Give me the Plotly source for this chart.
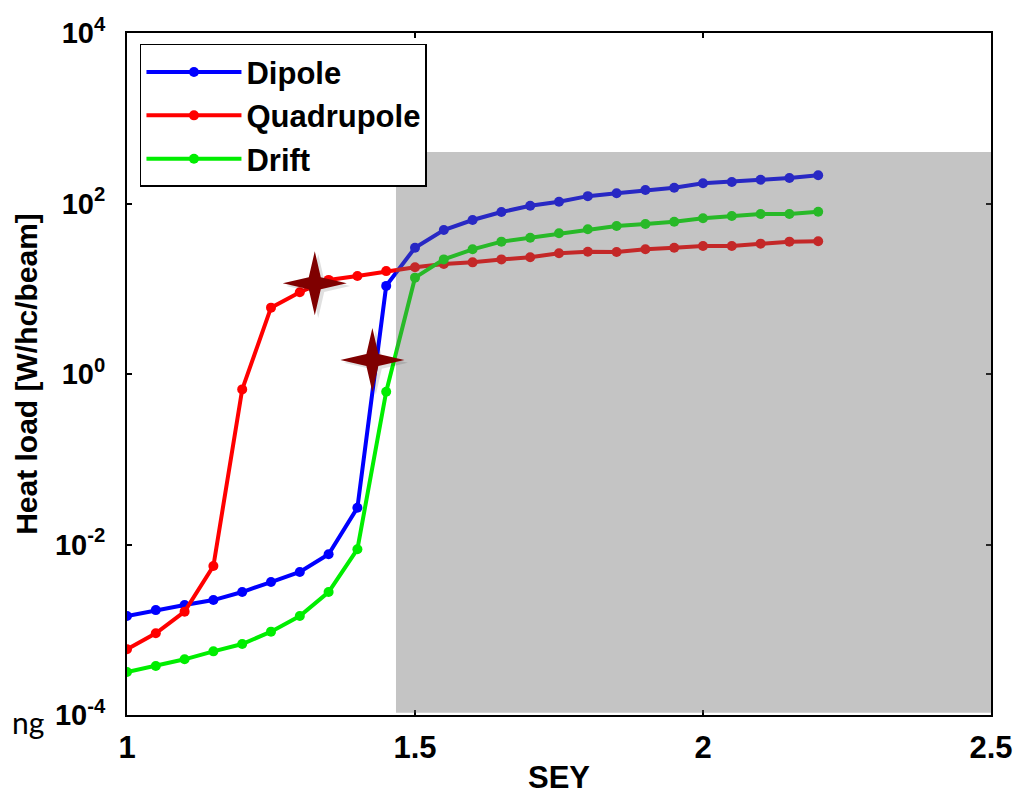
import plotly.graph_objects as go

# SEY scan, 1.00 .. 2.20 in steps of 0.05
sey = [1.00, 1.05, 1.10, 1.15, 1.20, 1.25, 1.30, 1.35, 1.40, 1.45, 1.50, 1.55, 1.60,
       1.65, 1.70, 1.75, 1.80, 1.85, 1.90, 1.95, 2.00, 2.05, 2.10, 2.15, 2.20]

dipole = [1.45e-3, 1.7e-3, 1.95e-3, 2.23e-3, 2.77e-3, 3.63e-3, 4.76e-3, 7.7e-3, 0.027,
          10.8, 30.3, 48.9, 64, 79.4, 94, 105, 122, 132, 144, 153, 173, 179, 190, 199, 214]

quadrupole = [5.9e-4, 9.1e-4, 1.63e-3, 5.6e-3, 0.66, 6.0, 9.1, 12.7, 14.1, 16.1, 17.9,
              19.5, 20.4, 22.1, 23.4, 26.1, 27.2, 27.0, 29.0, 30.3, 31.7, 31.7, 33.8, 35.7, 36.0]

drift = [3.19e-4, 3.76e-4, 4.5e-4, 5.58e-4, 6.8e-4, 9.5e-4, 1.45e-3, 2.77e-3, 8.8e-3,
         0.62, 13.5, 22.1, 29.0, 35.7, 39.7, 44.7, 49.8, 54.4, 57.5, 61.2, 67.0, 71.3,
         75.3, 75.3, 80.2]

series_names = ["Dipole", "Quadrupole", "Drift"]
series_colors = ["#0000ff", "#ff0000", "#00ee00"]

# operating points marked with stars
star_x = [1.326, 1.426]
star_y = [11.6, 1.46]

# shaded SEY band
band_x = [1.467, 2.505]
band_y = [1.06e-4, 402]

x_ticks = [1, 1.5, 2, 2.5]
x_ticktext = ["1", "1.5", "2", "2.5"]
y_ticks = [1e-4, 1e-2, 1, 1e2, 1e4]
y_ticktext = ["10<sup>-4</sup>", "10<sup>-2</sup>", "10<sup>0</sup>",
              "10<sup>2</sup>", "10<sup>4</sup>"]

FONT = "Liberation Sans, Arial, sans-serif"

fig = go.Figure()
for name, ys, col in zip(series_names, [dipole, quadrupole, drift], series_colors):
    fig.add_trace(go.Scatter(
        x=sey, y=ys, name=name, mode="lines+markers",
        line=dict(color=col, width=4),
        marker=dict(color=col, size=10),
    ))

# four-pointed star outline in pixels around its anchor
def star_path(r, w):
    return (f"M 0,{r} L {w},{w} L {r},0 L {w},{-w} L 0,{-r} "
            f"L {-w},{-w} L {-r},0 L {-w},{w} Z")

shapes = []
# translucent band drawn above the curves, which dims them inside it
shapes.append(dict(
    type="rect", xref="x", yref="y",
    x0=band_x[0], x1=band_x[1], y0=band_y[0], y1=band_y[1],
    fillcolor="rgba(103,103,103,0.39)", line=dict(width=0), layer="above",
))
for sx, sy in zip(star_x, star_y):
    shapes.append(dict(
        type="path", xref="x", yref="y", xsizemode="pixel", ysizemode="pixel",
        xanchor=sx + 0.006, yanchor=sy * 0.93, path=star_path(32, 6),
        fillcolor="rgba(0,0,0,0.12)", line=dict(width=0), layer="above",
    ))
    shapes.append(dict(
        type="path", xref="x", yref="y", xsizemode="pixel", ysizemode="pixel",
        xanchor=sx, yanchor=sy, path=star_path(32, 6),
        fillcolor="#7f0000", line=dict(width=0), layer="above",
    ))

fig.update_layout(
    width=1023, height=795,
    margin=dict(l=127, r=32, t=33, b=80),
    paper_bgcolor="white", plot_bgcolor="white",
    font=dict(family=FONT, color="black", size=30, weight="bold"),
    shapes=shapes,
    showlegend=True,
    legend=dict(
        x=0.015, y=0.984, xanchor="left", yanchor="top",
        bgcolor="white", bordercolor="black", borderwidth=1.5,
        font=dict(family=FONT, size=31, color="black", weight="bold"),
        itemwidth=95, tracegroupgap=0,
    ),
    xaxis=dict(
        range=[1, 2.5], tickvals=x_ticks, ticktext=x_ticktext,
        showline=True, mirror="ticks", linecolor="black", linewidth=2,
        ticks="inside", ticklen=5, tickcolor="black", tickwidth=1.5,
        showgrid=False, zeroline=False, ticklabelstandoff=4, automargin=False,
        tickfont=dict(family=FONT, size=31, weight="bold"),
        title=dict(text="SEY", font=dict(family=FONT, size=31, weight="bold"), standoff=6),
    ),
    yaxis=dict(
        type="log", range=[-4, 4], tickvals=y_ticks, ticktext=y_ticktext,
        showline=True, mirror="ticks", linecolor="black", linewidth=2,
        ticks="inside", ticklen=5, tickcolor="black", tickwidth=1.5,
        showgrid=False, zeroline=False, ticklabelstandoff=14, automargin=False,
        tickfont=dict(family=FONT, size=29, weight="bold"),
        title=dict(text="Heat load [W/hc/beam]",
                   font=dict(family=FONT, size=30, weight="bold"), standoff=8),
    ),
    annotations=[dict(
        text="ng", xref="paper", yref="paper", x=-0.094, y=-0.0103,
        xanchor="right", yanchor="middle", showarrow=False,
        font=dict(family="Lato, Open Sans, sans-serif", size=30, color="black", weight="normal"),
    )],
)

fig.write_html("out.html")
